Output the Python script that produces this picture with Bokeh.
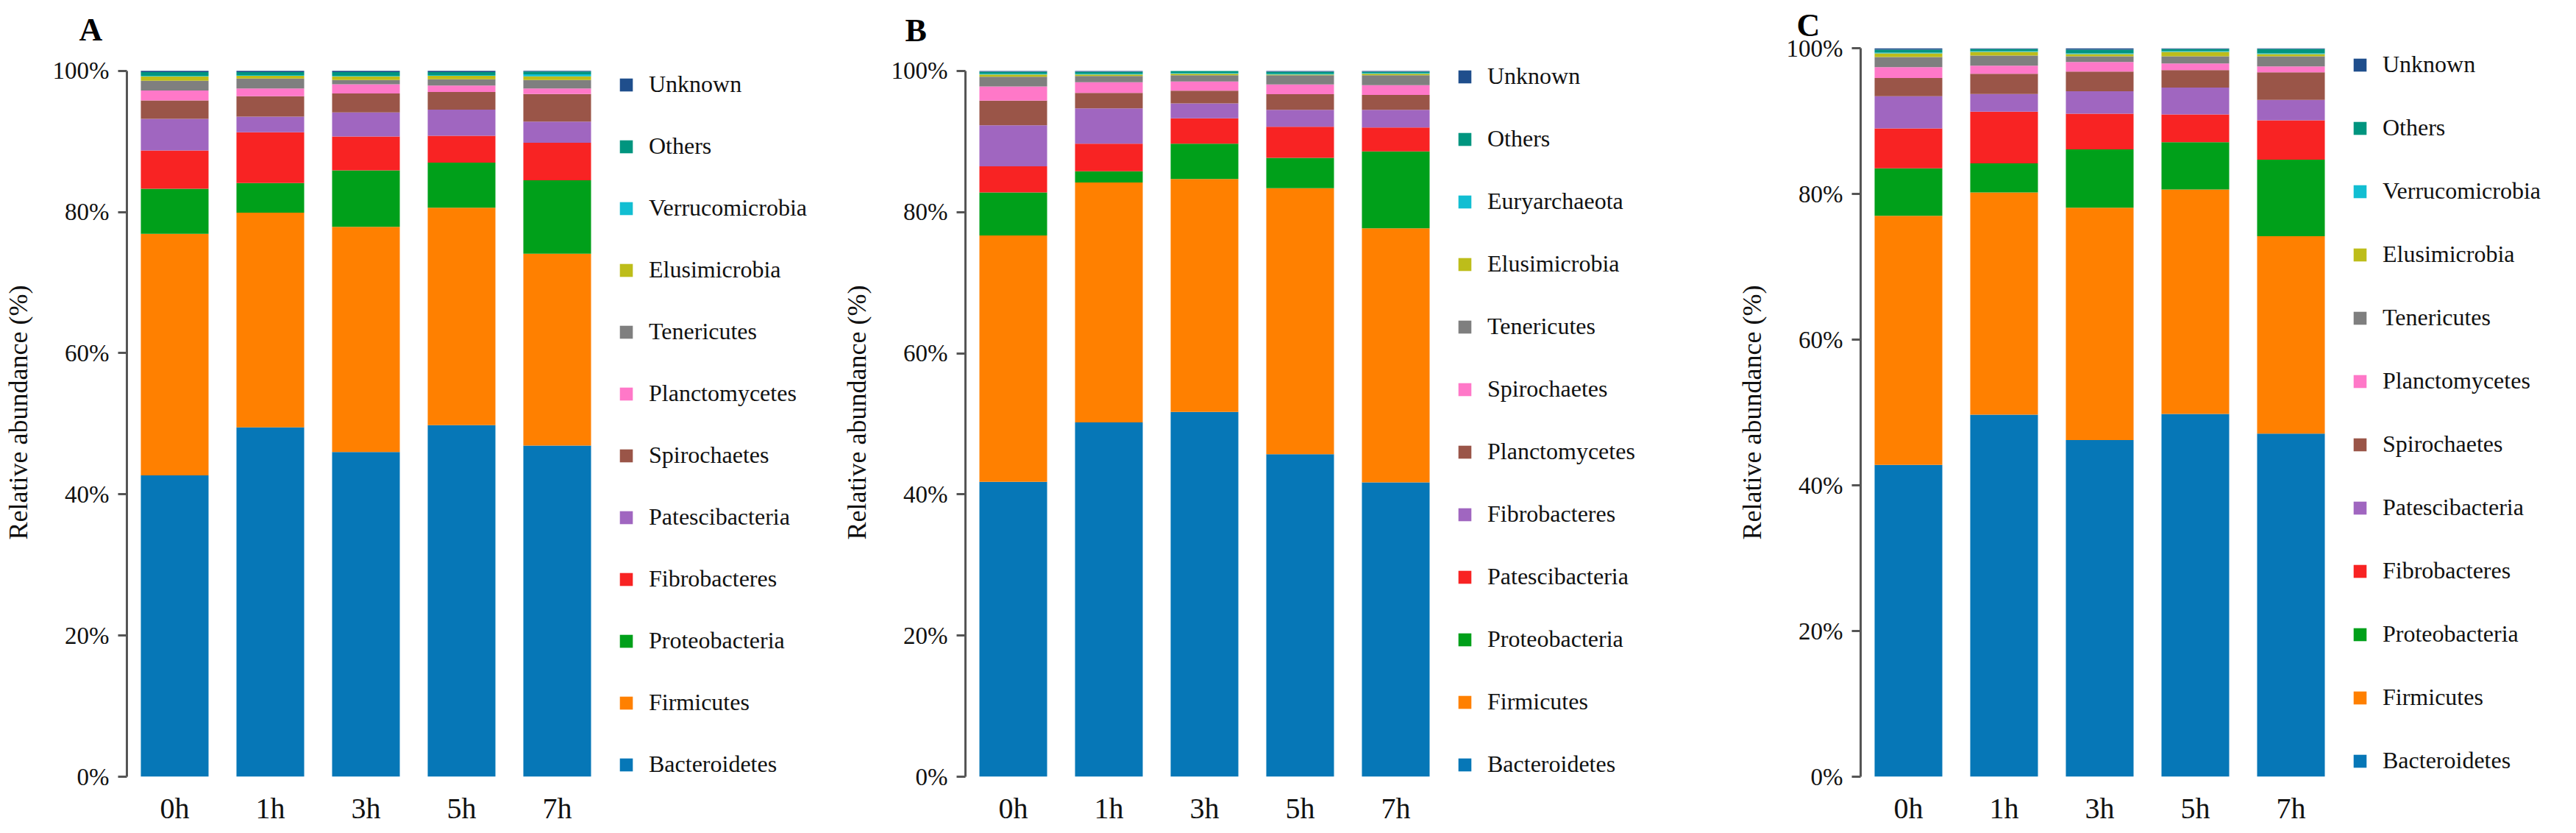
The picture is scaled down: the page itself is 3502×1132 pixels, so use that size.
from bokeh.plotting import figure
from bokeh.models import (Range1d, FixedTicker, PrintfTickFormatter,
                          Legend, LegendItem, ColumnDataSource)
from bokeh.layouts import row
from bokeh.embed import file_html
from bokeh.resources import INLINE

TIMES = ["0h", "1h", "3h", "5h", "7h"]
X_POS = [0.5, 1.5, 2.5, 3.5, 4.5]
Y_TICKS = [0, 20, 40, 60, 80, 100]

# ---------------- Panel A (bottom -> top) ----------------
A_NAMES = ["Bacteroidetes", "Firmicutes", "Proteobacteria", "Fibrobacteres", "Patescibacteria",
           "Spirochaetes", "Planctomycetes", "Tenericutes", "Elusimicrobia", "Verrucomicrobia",
           "Others", "Unknown"]
A_BACTEROIDETES = [42.7, 49.5, 46.0, 49.8, 46.9]
A_FIRMICUTES = [34.2, 30.4, 31.9, 30.8, 27.2]
A_PROTEOBACTERIA = [6.4, 4.2, 8.0, 6.4, 10.4]
A_FIBROBACTERES = [5.4, 7.2, 4.8, 3.8, 5.3]
A_PATESCIBACTERIA = [4.5, 2.2, 3.4, 3.7, 3.0]
A_SPIROCHAETES = [2.6, 2.9, 2.7, 2.5, 3.9]
A_PLANCTOMYCETES = [1.4, 1.1, 1.3, 0.9, 0.8]
A_TENERICUTES = [1.4, 1.4, 0.6, 0.9, 1.2]
A_ELUSIMICROBIA = [0.6, 0.4, 0.5, 0.5, 0.5]
A_VERRUCOMICROBIA = [0.1, 0.1, 0.1, 0.1, 0.3]
A_OTHERS = [0.5, 0.4, 0.5, 0.4, 0.4]
A_UNKNOWN = [0.2, 0.2, 0.2, 0.2, 0.1]

# ---------------- Panel B (bottom -> top) ----------------
B_NAMES = ["Bacteroidetes", "Firmicutes", "Proteobacteria", "Patescibacteria", "Fibrobacteres",
           "Planctomycetes", "Spirochaetes", "Tenericutes", "Elusimicrobia", "Euryarchaeota",
           "Others", "Unknown"]
B_BACTEROIDETES = [41.8, 50.2, 51.7, 45.7, 41.7]
B_FIRMICUTES = [34.9, 34.0, 33.0, 37.7, 36.0]
B_PROTEOBACTERIA = [6.1, 1.6, 5.0, 4.3, 10.9]
B_PATESCIBACTERIA = [3.7, 3.9, 3.6, 4.4, 3.4]
B_FIBROBACTERES = [5.8, 5.0, 2.1, 2.4, 2.5]
B_PLANCTOMYCETES = [3.5, 2.2, 1.8, 2.2, 2.1]
B_SPIROCHAETES = [2.0, 1.5, 1.3, 1.4, 1.4]
B_TENERICUTES = [1.4, 0.9, 0.9, 1.3, 1.4]
B_ELUSIMICROBIA = [0.3, 0.2, 0.2, 0.1, 0.2]
B_EURYARCHAEOTA = [0.1, 0.1, 0.1, 0.1, 0.1]
B_OTHERS = [0.3, 0.3, 0.3, 0.3, 0.2]
B_UNKNOWN = [0.1, 0.1, 0.0, 0.1, 0.1]

# ---------------- Panel C (bottom -> top) ----------------
C_NAMES = A_NAMES
C_BACTEROIDETES = [42.8, 49.7, 46.2, 49.8, 47.1]
C_FIRMICUTES = [34.2, 30.5, 31.9, 30.8, 27.1]
C_PROTEOBACTERIA = [6.5, 4.0, 8.0, 6.5, 10.5]
C_FIBROBACTERES = [5.5, 7.1, 4.9, 3.8, 5.4]
C_PATESCIBACTERIA = [4.4, 2.4, 3.1, 3.7, 2.8]
C_SPIROCHAETES = [2.5, 2.8, 2.7, 2.4, 3.8]
C_PLANCTOMYCETES = [1.5, 1.1, 1.3, 0.9, 0.8]
C_TENERICUTES = [1.4, 1.4, 0.8, 1.0, 1.4]
C_ELUSIMICROBIA = [0.5, 0.5, 0.3, 0.6, 0.3]
C_VERRUCOMICROBIA = [0.1, 0.1, 0.1, 0.1, 0.1]
C_OTHERS = [0.4, 0.3, 0.5, 0.3, 0.6]
C_UNKNOWN = [0.2, 0.1, 0.2, 0.1, 0.1]

COLORS = ["#0677B7", "#FF8000", "#00A01A", "#F82323", "#A066C0", "#9A5548",
          "#FF78C8", "#7F7F7F", "#BDBD1A", "#12BED2", "#00957F", "#1F4E8C"]

FONT = "Liberation Serif"
UNIT = 130.0       # px per category slot
FRAME_H = 990
ITEM_H = 37


def make_panel(letter, names, series, frame_w, y_end, spacing, legend_y,
               title_offset, title_standoff):
    p = figure(x_range=Range1d(0, frame_w / UNIT), y_range=Range1d(0, y_end),
               frame_width=frame_w, frame_height=FRAME_H,
               output_backend="svg", toolbar_location=None,
               min_border_left=172, min_border_right=0,
               min_border_top=64, min_border_bottom=52)
    data = {"x": X_POS}
    keys = []
    for i, s in enumerate(series):
        k = "s%d" % i
        data[k] = s
        keys.append(k)
    src = ColumnDataSource(data)
    rends = p.vbar_stack(keys, x="x", width=0.708, fill_color=COLORS,
                         line_color=None, source=src)
    items = [LegendItem(label=names[i], renderers=[rends[i]])
             for i in range(len(names) - 1, -1, -1)]
    legend = Legend(items=items, location=(668, legend_y),
                    glyph_width=22, glyph_height=22, label_height=ITEM_H,
                    spacing=spacing, padding=0, margin=0,
                    border_line_color=None, background_fill_alpha=0,
                    label_text_font=FONT, label_text_font_size="32px",
                    label_standoff=20, label_text_color="#111111")
    p.add_layout(legend)

    p.xgrid.visible = False
    p.ygrid.visible = False
    p.outline_line_color = None

    ya = p.yaxis[0]
    ya.bounds = (0, 100)
    ya.ticker = FixedTicker(ticks=Y_TICKS)
    ya.formatter = PrintfTickFormatter(format="%d%%")
    ya.major_label_text_font = FONT
    ya.major_label_text_font_size = "33px"
    ya.major_label_text_color = "#111111"
    ya.major_tick_out = 12
    ya.major_tick_in = 0
    ya.minor_tick_out = 0
    ya.minor_tick_in = 0
    ya.axis_line_width = 3
    ya.axis_line_color = "#555555"
    ya.major_tick_line_width = 3
    ya.major_tick_line_color = "#555555"
    ya.major_label_standoff = 12
    ya.axis_label = "Relative abundance (%)"
    ya.axis_label_text_font = FONT
    ya.axis_label_text_font_style = "normal"
    ya.axis_label_text_font_size = "36px"
    ya.axis_label_text_color = "#111111"
    ya.axis_label_standoff = 24

    xa = p.xaxis[0]
    xa.ticker = FixedTicker(ticks=X_POS)
    xa.major_label_overrides = {x: t for x, t in zip(X_POS, TIMES)}
    xa.axis_line_color = None
    xa.major_tick_line_color = None
    xa.minor_tick_line_color = None
    xa.major_label_text_font = FONT
    xa.major_label_text_font_size = "40px"
    xa.major_label_text_color = "#111111"
    xa.major_label_standoff = 14

    p.title.text = letter
    p.title.align = "left"
    p.title.offset = title_offset
    p.title.standoff = title_standoff
    p.title.text_font = FONT
    p.title.text_font_style = "bold"
    p.title.text_font_size = "44px"
    p.title.text_color = "#000000"
    return p


pA = make_panel("A", A_NAMES,
                [A_BACTEROIDETES, A_FIRMICUTES, A_PROTEOBACTERIA, A_FIBROBACTERES,
                 A_PATESCIBACTERIA, A_SPIROCHAETES, A_PLANCTOMYCETES, A_TENERICUTES,
                 A_ELUSIMICROBIA, A_VERRUCOMICROBIA, A_OTHERS, A_UNKNOWN],
                frame_w=968, y_end=103.2, spacing=47, legend_y=-2,
                title_offset=-65, title_standoff=2)
pB = make_panel("B", B_NAMES,
                [B_BACTEROIDETES, B_FIRMICUTES, B_PROTEOBACTERIA, B_PATESCIBACTERIA,
                 B_FIBROBACTERES, B_PLANCTOMYCETES, B_SPIROCHAETES, B_TENERICUTES,
                 B_ELUSIMICROBIA, B_EURYARCHAEOTA, B_OTHERS, B_UNKNOWN],
                frame_w=1045, y_end=103.23, spacing=48, legend_y=-2,
                title_offset=-82, title_standoff=0)
pC = make_panel("C", C_NAMES,
                [C_BACTEROIDETES, C_FIRMICUTES, C_PROTEOBACTERIA, C_FIBROBACTERES,
                 C_PATESCIBACTERIA, C_SPIROCHAETES, C_PLANCTOMYCETES, C_TENERICUTES,
                 C_ELUSIMICROBIA, C_VERRUCOMICROBIA, C_OTHERS, C_UNKNOWN],
                frame_w=957, y_end=100.0, spacing=49, legend_y=3,
                title_offset=-87, title_standoff=14)

layout = row(pA, pB, pC, spacing=0)
open("out.html", "w").write(file_html(layout, INLINE))
